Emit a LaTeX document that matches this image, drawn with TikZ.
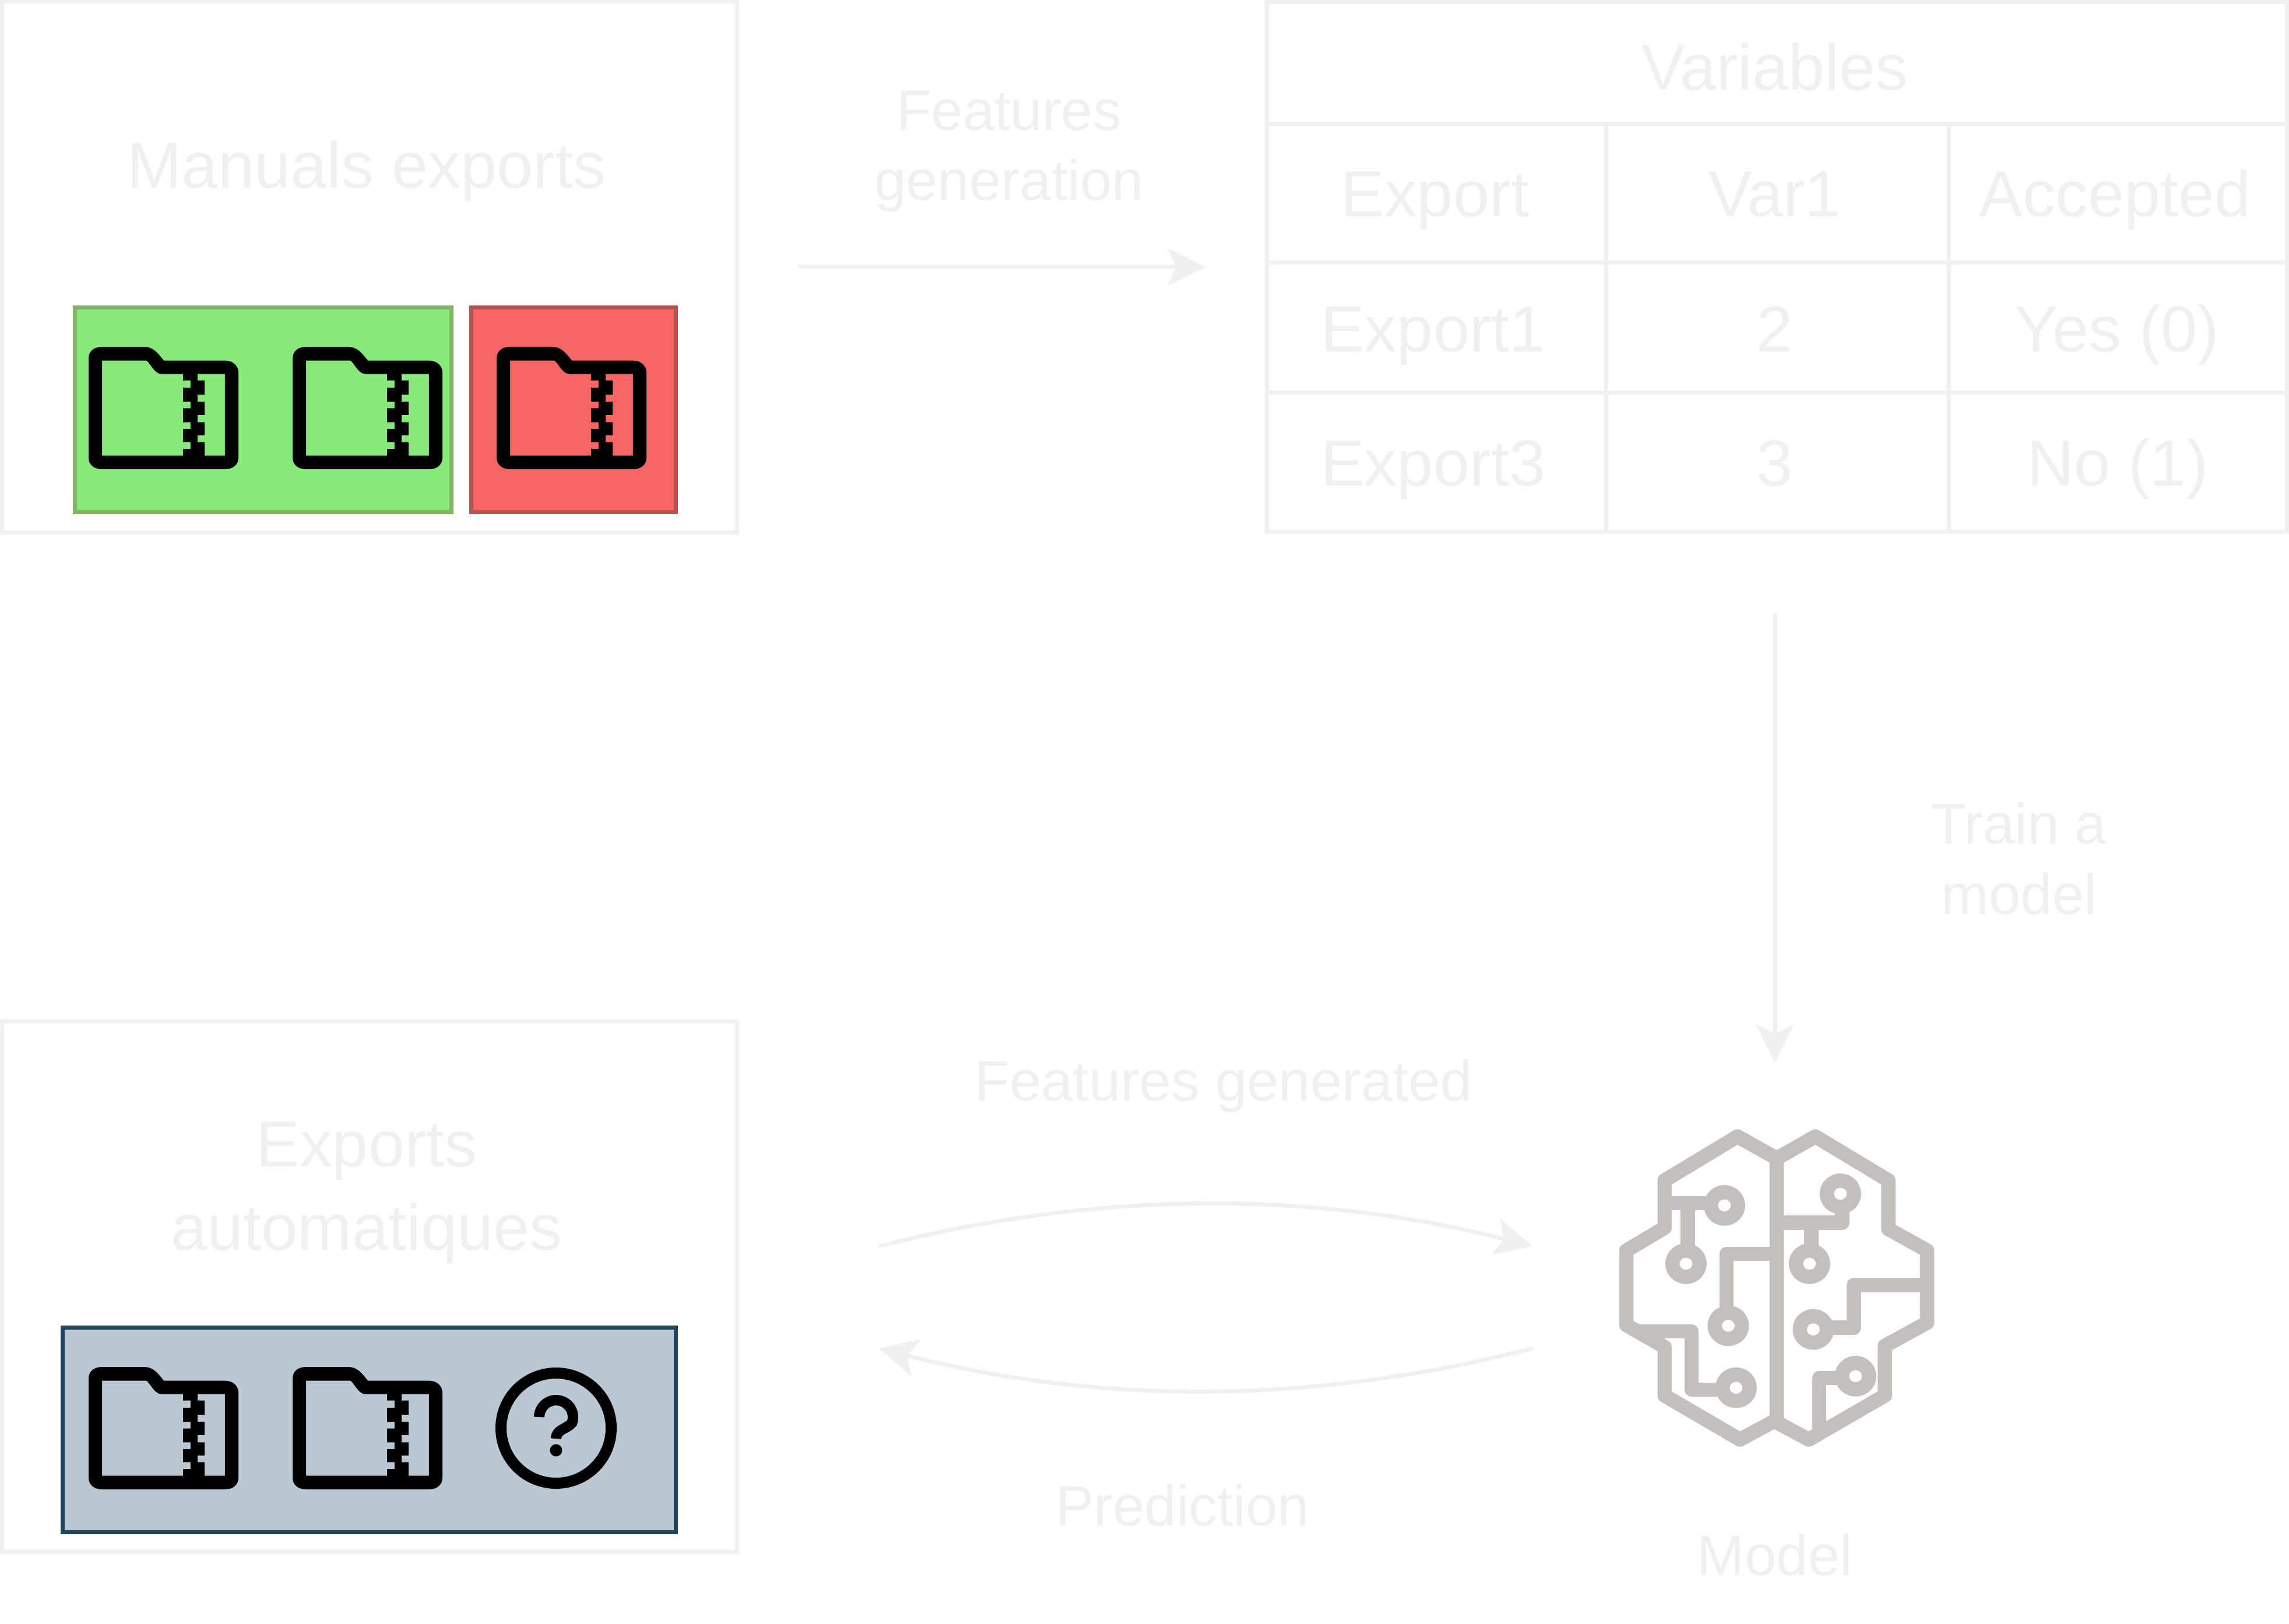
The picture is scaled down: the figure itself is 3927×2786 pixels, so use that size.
\documentclass[tikz,border=0pt]{standalone}
\usepackage{fontspec}
\setmainfont{Liberation Sans}
\usetikzlibrary{arrows.meta}
\definecolor{faded}{HTML}{F0F0F0}
\definecolor{brainc}{HTML}{C4BFBF}
\tikzset{
  biglabel/.style={text=faded,inner sep=0pt,font=\fontsize{31.8}{40.5}\selectfont},
  smalllabel/.style={text=faded,inner sep=0pt,font=\fontsize{27.8}{34.3}\selectfont},
  panel/.style={draw=faded,line width=0.07cm,inner sep=0pt},
  flow/.style={draw=faded,line width=0.07cm,-{Stealth[length=0.65cm,width=0.64cm,inset=0.15cm]}},
  okbox/.style={draw=okline,fill=okfill,line width=0.07cm,inner sep=0pt},
  brainln/.style={draw=brainc,line width=0.245cm,line join=round,x=0.00408cm,y=-0.00397cm},
  zipfolder/.pic={
    \fill[black,even odd rule,x=0.00702cm,y=-0.00333cm]
    (0,60) .. controls (0,25) and (12,0) .. (33,0) -- (135,0) .. controls (158,0) and (168,30) .. (184,71)
    -- (333,71) .. controls (354,71) and (366,100) .. (366,134) -- (366,571)
    .. controls (366,605) and (354,631) .. (333,631) -- (33,631) .. controls (12,631) and (0,605) .. (0,571) -- cycle
    (33,71) -- (141,71) .. controls (150,80) and (160,140) .. (178,140) -- (231,140) -- (231,173) -- (249,173) -- (249,211)
    -- (231,211) -- (231,283) -- (249,283) -- (249,317) -- (231,317) -- (231,389) -- (249,389) -- (249,423)
    -- (231,423) -- (231,491) -- (249,491) -- (249,526) -- (231,526) -- (231,561) -- (33,561) -- cycle
    (266,140) -- (333,140) -- (333,561) -- (283,561) -- (283,491) -- (266,491) -- (266,456) -- (283,456) -- (283,389)
    -- (266,389) -- (266,351) -- (283,351) -- (283,283) -- (266,283) -- (266,246) -- (283,246) -- (283,173) -- (266,173) -- cycle;
  }
}
\definecolor{okfill}{HTML}{88E97B}
\definecolor{okline}{HTML}{82B366}
\definecolor{nofill}{HTML}{F96565}
\definecolor{noline}{HTML}{B85450}
\definecolor{autofill}{HTML}{BAC8D3}
\definecolor{autoline}{HTML}{23445D}
\begin{document}
\begin{tikzpicture}[x=0.01cm,y=-0.01cm]
\useasboundingbox (0,0) rectangle (3927,2786);
\node[panel,minimum width=12.605cm,minimum height=9.1cm](manuals) at (633.75,458){};
\node[panel,minimum width=12.605cm,minimum height=9.09cm](auto) at (633.75,2207.5){};
\node[okbox,minimum width=6.45cm,minimum height=3.5cm](okset) at (451.5,703){};
\node[okbox,draw=noline,fill=nofill,minimum width=3.5cm,minimum height=3.5cm](noset) at (984,703){};
\node[okbox,draw=autoline,fill=autofill,minimum width=10.51cm,minimum height=3.5cm](autoset) at (633.5,2453){};
\pic at (152,595){zipfolder};
\pic at (502,595){zipfolder};
\pic at (852,595){zipfolder};
\pic at (152,2345){zipfolder};
\pic at (502,2345){zipfolder};
\draw[black,line width=0.19cm](954,2450)circle(94.5);
\draw[black,line width=0.18cm](925,2431) arc (180:380:29) .. controls (972,2452) and (954,2452) .. (954,2468);
\fill[black](954,2488)circle(10.5);
\node[biglabel,anchor=base](mantitle) at (629,323){Manuals exports};
\node[biglabel,align=center](autotitle) at (629,2046){Exports\\automatiques};
\draw[panel](2173,3.5)rectangle(3923,913);
\foreach \ya in {213,451,674}\draw[panel](2173,\ya)--(3923,\ya);
\foreach \xa in {2755,3343}\draw[panel](\xa,213)--(\xa,913);
\node[biglabel,anchor=base](vartitle) at (3045,155){Variables};
\node[biglabel,anchor=base](hexport) at (2462,372){Export};
\node[biglabel,anchor=base](hvar) at (3045,372){Var1};
\node[biglabel,anchor=base](haccept) at (3629,372){Accepted};
\node[biglabel,anchor=base](rowa) at (2459,604){Export1};
\node[biglabel,anchor=base](rowav) at (3045,604){2};
\node[biglabel,anchor=base](rowaa) at (3632,604){Yes (0)};
\node[biglabel,anchor=base](rowb) at (2459,834){Export3};
\node[biglabel,anchor=base](rowbv) at (3045,834){3};
\node[biglabel,anchor=base](rowba) at (3633,834){No (1)};
\coordinate(genA) at (1370,458);
\coordinate(genB) at (2068,458);
\draw[flow](genA)--(genB);
\node[smalllabel,align=center](genlabel) at (1731,260){Features\\generation};
\coordinate(trainA) at (3045,1052);
\coordinate(trainB) at (3045,1823);
\draw[flow](trainA)--(trainB);
\node[smalllabel,align=center](trainlabel) at (3464,1473){Train a\\model};
\coordinate(featA) at (1508,2138);
\coordinate(featB) at (2629,2138);
\draw[flow](featA) .. controls (1884,2042) and (2253,2042) .. (featB);
\coordinate(predA) at (2629,2313);
\coordinate(predB) at (1508,2313);
\draw[flow](predA) .. controls (2253,2410) and (1884,2410) .. (predB);
\node[smalllabel,anchor=base](featlabel) at (2099,1888){Features generated};
\node[smalllabel,anchor=base](predlabel) at (2029,2617){Prediction};
\node[smalllabel,anchor=base](modellabel) at (3045,2702){Model};
\begin{scope}[shift={(2720,1900)}]
\draw[brainln](805,1360)--(805,220)--(640,125)--(333,315)--(333,520)--(172,618)--(172,940)--(333,1035)--(333,1245)--(650,1435)--(795,1355);
\draw[brainln](805,220)--(968,125)--(1275,315)--(1275,525)--(1438,618)--(1438,930)--(1260,1030)--(1260,1245)--(940,1435)--(795,1355);
\draw[brainln](333,413)--(530,413);
\draw[brainln](431,413)--(431,620);
\draw[brainln](805,632)--(594,632)--(594,880);
\draw[brainln](230,968)--(447,968)--(447,1219)--(590,1219);
\draw[brainln](805,498)--(1081,498)--(1081,440);
\draw[brainln](951,498)--(951,620);
\draw[brainln](1438,767)--(1130,767)--(1130,951)--(1020,951);
\draw[brainln](984,1400)--(984,1169)--(1080,1169);
\foreach \cx/\cy in {585/423,423/675,601/943,634/1211,1073/373,943/675,959/959,1137/1161}
  \draw[brainln](\cx,\cy)circle[radius=57];
\end{scope}
\end{tikzpicture}
\end{document}
